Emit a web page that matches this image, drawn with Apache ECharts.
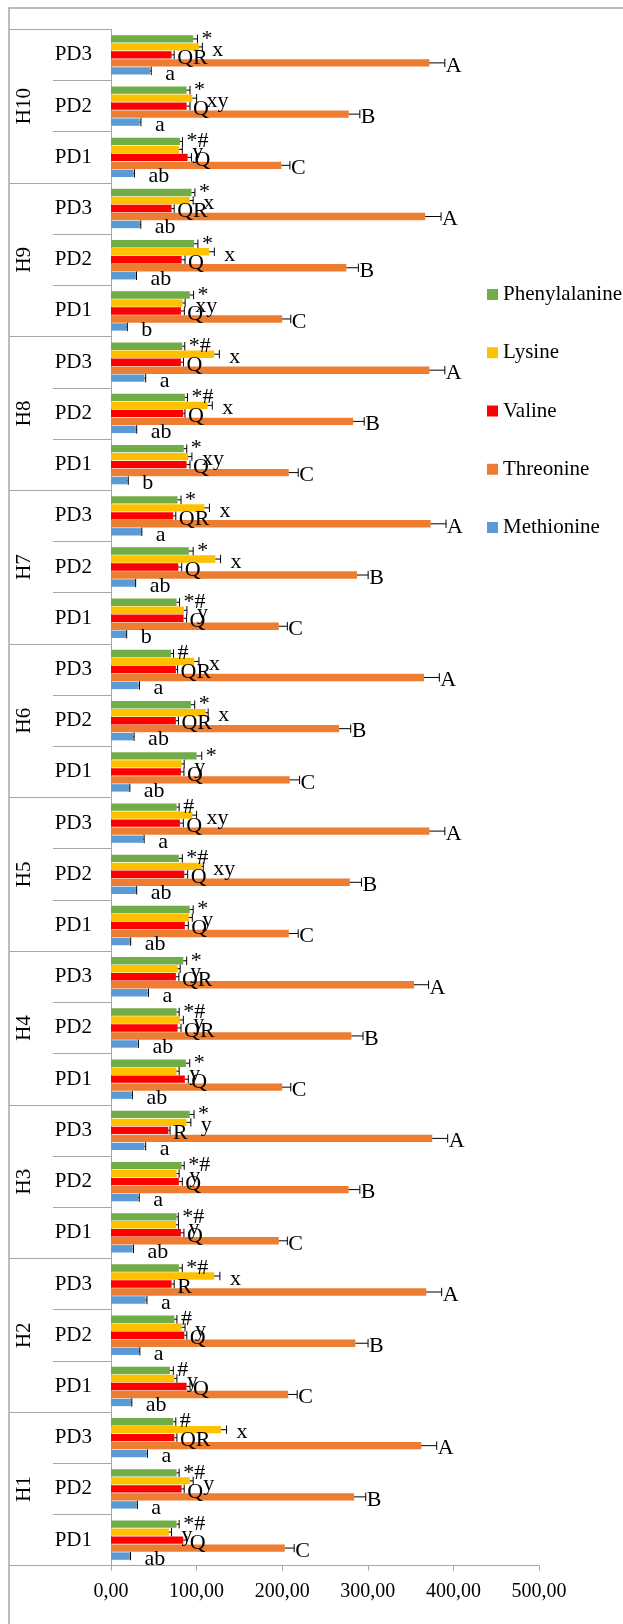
<!DOCTYPE html>
<html><head><meta charset="utf-8">
<script src="https://cdn.jsdelivr.net/npm/echarts@6/dist/echarts.min.js"></script>
<style>html,body{margin:0;padding:0;background:#fff}#c{width:623px;height:1624px}</style>
</head><body><div id="c"></div>
<script>
// Categories, bottom to top
const groups = ['H1','H2','H3','H4','H5','H6','H7','H8','H9','H10'];
const subLabels = ['PD1','PD2','PD3'];
const categories = [];
groups.forEach(g => subLabels.forEach(s => categories.push(g + '|' + s)));
const xTicks = [0, 100, 200, 300, 400, 500];

// Series values (H1 PD1, H1 PD2, H1 PD3, H2 PD1, ... H10 PD3)
const methionine = [22,30,41.6, 23.3,32.7,40.5, 25.3,32,39, 24,31,42.8, 22,29,37.7, 21,26,32.3, 17.5,28,35, 19.4,29,39, 18.3,29,33.8, 26.4,33.5,45.5];
const methionineErr = [0.8,0.8,1, 1,1,1.5, 1,1,1.5, 1,1,1, 1,1,1, 1,1,1, 0.8,0.8,1, 0.8,1,1.5, 0.8,0.8,1, 1,1.5,1.5];
const methionineLab = ['ab','a','a','ab','a','a','ab','a','a','ab','ab','a','ab','ab','a','ab','ab','a','b','ab','a','b','ab','a','b','ab','ab','ab','a','a'];

const threonine = [203,284,362.5, 207,285.5,368.3, 196,277.7,375.3, 200,280.8,354, 207.7,279,372, 208.8,266.4,365.6, 196,287.4,373.4, 207.7,282.8,372, 200,275,367, 199,277.7,372];
const threonineErr = [11,13.6,18, 10.5,14.8,18, 10,13,18, 10,13.6,17, 11,13.6,18, 11.5,13.6,18, 10,13,18, 11,13,18, 10,14,18.6, 10,13,18];
const threonineLab = ['C','B','A','C','B','A','C','B','A','C','B','A','C','B','A','C','B','A','C','B','A','C','B','A','C','B','A','C','B','A'];

const valine = [84.4,82.5,74, 88.3,85.6,70.8, 81.7,79.3,67, 86.3,77.8,75.8, 86.3,85.6,80.5, 81.7,75.8,75.8, 84.8,78.6,72.7, 88.3,84.4,81.7, 81.7,82.5,70.8, 89.5,88.3,70.8];
const valineErr = [4,3,3, 4,3,3, 3.5,4,2, 4,4,3.5, 4,4,4, 3.5,3,2, 3.5,4,3, 4,2,3, 4,4,3, 4.5,4,3];
const valineLab = ['Q','Q','QR','Q','Q','R','Q','Q','R','Q','QR','QR','Q','Q','Q','Q','QR','QR','Q','Q','QR','Q','Q','Q','Q','Q','QR','Q','Q','QR'];

const lysine = [67.7,92,128.4, 74,82.5,120.6, 75.8,76.6,88.3, 76.6,80.5,77.8, 91,105.8,95, 82.5,110.5,97.2, 85.2,122,109, 90,112.8,120.6, 83.6,114.7,92, 79.3,95,102.7];
const lysineErr = [3,4,6.6, 3,4,6.6, 3,3,5, 3,4,3, 4,2,5, 3,3,5.5, 3.5,6,6, 4.5,5.5,6, 3,6,4, 4,5,4];
const lysineLab = ['y','y','x','y','y','x','y','y','y','y','y','y','y','xy','xy','y','x','x','y','x','x','xy','x','x','xy','x','x','y','xy','x'];

const phenylalanine = [76.6,76.6,72.7, 68.8,74,79.3, 76.6,82.5,92, 87.5,76.6,84.4, 92,79.3,76.6, 100,93.3,70, 76.6,91,77.8, 85,86.3,83.2, 92,97,94, 80.5,88.3,96];
const phenylalanineErr = [3,3,3, 4,3,4, 2,3,5, 4.5,3,4, 4,4,3, 6,4.5,3, 3.5,5,4, 3.5,3,3, 4.5,4.5,4, 3,4,5];
const phenylalanineLab = ['*#','*#','#','#','#','*#','*#','*#','*','*','*#','*','*','*#','#','*','*','#','*#','*','*','*','*#','*#','*','*','*','*#','*','*'];

const FONT = 'Liberation Serif';
const BAR_W = 7.4, BAR_GAP = '8%';
const GRAY = '#a6a6a6';

// series order: index 0 drawn at top of each band
const seriesDefs = [
  {name:'Phenylalanine', color:'#70AD47', vals:phenylalanine, errs:phenylalanineErr, labs:phenylalanineLab, gap:4, dy:0},
  {name:'Lysine', color:'#FFC000', vals:lysine, errs:lysineErr, labs:lysineLab, gap:10, dy:3},
  {name:'Valine', color:'#FF0000', vals:valine, errs:valineErr, labs:valineLab, gap:3, dy:3},
  {name:'Threonine', color:'#ED7D31', vals:threonine, errs:threonineErr, labs:threonineLab, gap:1, dy:3},
  {name:'Methionine', color:'#5B9BD5', vals:methionine, errs:methionineErr, labs:methionineLab, gap:14, dy:3}
];

const series = [];
seriesDefs.forEach(d => {
  series.push({type:'bar', name:d.name, data:d.vals, barWidth:BAR_W, barGap:BAR_GAP,
    itemStyle:{color:d.color}, silent:true, xAxisIndex:0, yAxisIndex:0});
});
seriesDefs.forEach((d, idx) => {
  series.push({
    type:'custom', name:d.name + ' err', xAxisIndex:0, yAxisIndex:0, z:5, silent:true, clip:false,
    data: d.vals.map((v,i) => [v, i, d.errs[i]]),
    encode:{x:0, y:1},
    renderItem: function(params, api) {
      const v = api.value(0), c = api.value(1), e = api.value(2);
      const lay = api.barLayout({barWidth:BAR_W, barGap:BAR_GAP, count:seriesDefs.length});
      const off = lay[idx].offsetCenter;
      const h = lay[idx].width;
      const p0 = api.coord([v, c]);
      const p1 = api.coord([v + e, c]);
      const y = p0[1] + off;
      return {type:'group', children:[
        {type:'line', shape:{x1:p0[0], y1:y, x2:p1[0], y2:y}, style:{stroke:'#000', lineWidth:1}},
        {type:'line', shape:{x1:p1[0], y1:y-h/2-0.5, x2:p1[0], y2:y+h/2+0.5}, style:{stroke:'#000', lineWidth:1}},
        {type:'text', style:{text:d.labs[params.dataIndex], x:p1[0] + d.gap, y:y + d.dy,
          fontSize:22, fontFamily:FONT, fill:'#000', align:'left', verticalAlign:'middle'}}
      ]};
    }
  });
});

const chart = echarts.init(document.getElementById('c'), null, {renderer:'canvas'});
chart.setOption({
  animation:false,
  backgroundColor:'#fff',
  graphic:[{type:'rect', shape:{x:9, y:8, width:700, height:1700}, style:{fill:'none', stroke:GRAY, lineWidth:1.5}, z:-1, silent:true}],
  grid:{left:111, top:29.3, right:84, bottom:58.3, containLabel:false},
  legend:{orient:'vertical', left:482, top:279, itemWidth:11, itemHeight:11, itemGap:37.25, icon:'rect',
    data:['Phenylalanine','Lysine','Valine','Threonine','Methionine'],
    textStyle:{fontSize:21, fontFamily:FONT, color:'#000'}},
  xAxis:{type:'value', min:xTicks[0], max:xTicks[xTicks.length-1], interval:100,
    splitLine:{show:false},
    axisLine:{show:true, lineStyle:{color:GRAY, width:1}},
    axisTick:{show:true, length:5, lineStyle:{color:GRAY}},
    axisLabel:{margin:16, fontSize:20, fontFamily:FONT, color:'#000',
      formatter: v => v.toFixed(2).replace('.', ',')}},
  yAxis:[
    {type:'category', data:categories, position:'left',
      axisLine:{show:true, lineStyle:{color:GRAY, width:1}},
      axisTick:{show:true, length:58, interval:0, lineStyle:{color:GRAY}},
      axisLabel:{interval:0, margin:19, fontSize:21, fontFamily:FONT, color:'#000',
        formatter: v => v.split('|')[1]}},
    {type:'category', data:groups, position:'left',
      axisLine:{show:false},
      axisTick:{show:true, length:102, interval:0, lineStyle:{color:GRAY}},
      axisLabel:{interval:0, rotate:90, margin:76, fontSize:21, fontFamily:FONT, color:'#000'}}
  ],
  series: series
});
</script></body></html>
